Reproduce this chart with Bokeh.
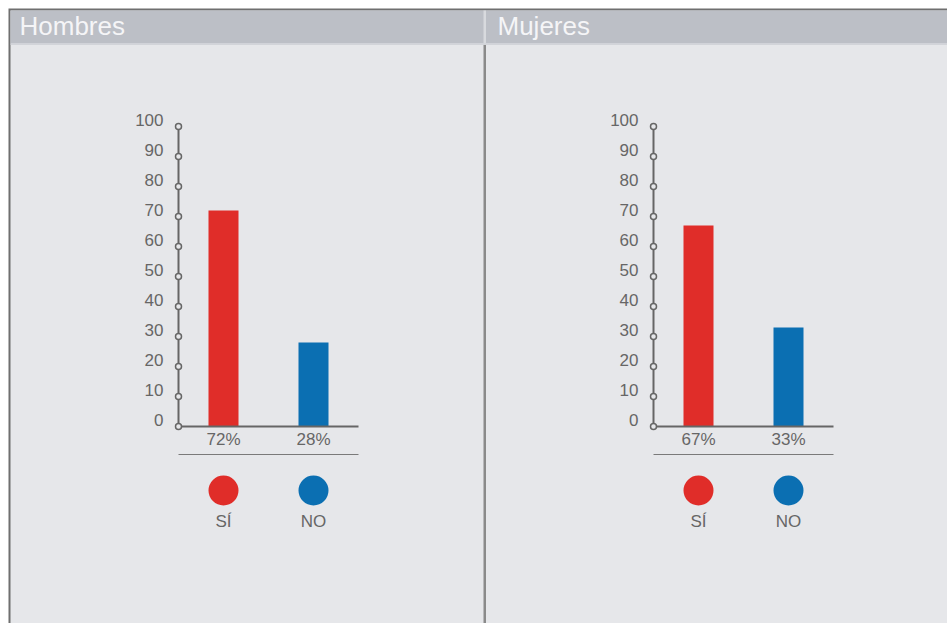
from bokeh.plotting import figure
from bokeh.models import Range1d
from bokeh.core.properties import value
from bokeh.embed import file_html
from bokeh.resources import INLINE

# --- data -------------------------------------------------------------
panels = ["Hombres", "Mujeres"]
categories = ["SÍ", "NO"]
hombres = [72, 28]
mujeres = [67, 33]
y_ticks = [0, 10, 20, 30, 40, 50, 60, 70, 80, 90, 100]

# --- style ------------------------------------------------------------
W, H = 947, 623
FONT = value("Liberation Sans")
BODY_BG = "#e6e7ea"
HEADER_BG = "#bcbfc6"
BORDER = "#6f6f6f"
AXIS = "#666666"
TEXT = "#666666"
COLORS = ["#e02d29", "#0b6fb2"]

# pixel layout: axis origin (x, y of value 0) and pixel height of 100 units
AXIS_X = {"Hombres": 178, "Mujeres": 653}
ZERO_Y = 426
TOP_Y = 126
CAT_PX = 90          # pixels per category slot

p = figure(width=W, height=H, x_range=Range1d(0, W), y_range=Range1d(H, 0),
           output_backend="svg", toolbar_location=None, min_border=0,
           x_axis_location=None, y_axis_location=None,
           outline_line_color=None, background_fill_color="white",
           border_fill_color="white")
p.grid.grid_line_color = None

px_per_unit = (ZERO_Y - TOP_Y) / 100.0
p.extra_y_ranges = {"pct": Range1d(-(H - ZERO_Y) / px_per_unit,
                                   100 + TOP_Y / px_per_unit)}
p.extra_x_ranges = {name: Range1d(-AXIS_X[name] / CAT_PX, (W - AXIS_X[name]) / CAT_PX)
                    for name in panels}

# --- frame: borders, header band, panel backgrounds --------------------
p.quad(left=[8], right=[W], top=[8], bottom=[H], fill_color=BORDER, line_color=None)
p.quad(left=[10], right=[W], top=[10], bottom=[H], fill_color=BODY_BG, line_color=None)
p.quad(left=[10], right=[W], top=[10], bottom=[43], fill_color=HEADER_BG, line_color=None)
p.quad(left=[10], right=[W], top=[43], bottom=[44.5], fill_color="#d2d4d9", line_color=None)
# divider between the two panels
p.quad(left=[483], right=[485.5], top=[44.5], bottom=[H], fill_color="#8a8a8a", line_color=None)
p.quad(left=[483], right=[485.5], top=[10], bottom=[43], fill_color="#d8dade", line_color=None)

p.text(x=[19, 497], y=[25.5, 25.5], text=panels, text_font=FONT,
       text_font_size="26px", text_color="#f5f5f7", text_baseline="middle")

# --- one bar chart per panel -------------------------------------------
for name, vals in zip(panels, [hombres, mujeres]):
    xs = [i + 0.5 for i in range(len(categories))]
    n = len(categories)

    # bars
    p.vbar(x=xs, top=vals, bottom=0, width=1 / 3, fill_color=COLORS, line_color=None,
           x_range_name=name, y_range_name="pct")

    # y axis with open-circle tick marks
    p.segment(x0=[0], y0=[0], x1=[0], y1=[y_ticks[-1]], line_color=AXIS, line_width=2,
              x_range_name=name, y_range_name="pct")
    p.segment(x0=[0], y0=[0], x1=[n], y1=[0], line_color=AXIS, line_width=2,
              x_range_name=name, y_range_name="pct")
    p.scatter(x=[0] * len(y_ticks), y=y_ticks, size=6, marker="circle",
              fill_color=BODY_BG, line_color=AXIS, line_width=1.5,
              x_range_name=name, y_range_name="pct")
    p.text(x=[0] * len(y_ticks), y=y_ticks, text=[str(t) for t in y_ticks],
           x_offset=-15, y_offset=-6.5, text_align="right", text_baseline="middle",
           text_font=FONT, text_font_size="17px", text_color=TEXT,
           x_range_name=name, y_range_name="pct")

    # value labels under the bars
    p.text(x=xs, y=[438.5] * n, text=[f"{v}%" for v in vals],
           text_align="center", text_baseline="middle",
           text_font=FONT, text_font_size="17px", text_color=TEXT,
           x_range_name=name)

    # separator and legend
    p.segment(x0=[0], y0=[454], x1=[n], y1=[454], line_color="#7a7a7a", line_width=1,
              x_range_name=name)
    p.scatter(x=xs, y=[490] * n, size=30, marker="circle", fill_color=COLORS,
              line_color=None, x_range_name=name)
    p.text(x=xs, y=[520.5] * n, text=categories, text_align="center",
           text_baseline="middle", text_font=FONT, text_font_size="17px",
           text_color=TEXT, x_range_name=name)

open("out.html", "w").write(file_html(p, INLINE))
